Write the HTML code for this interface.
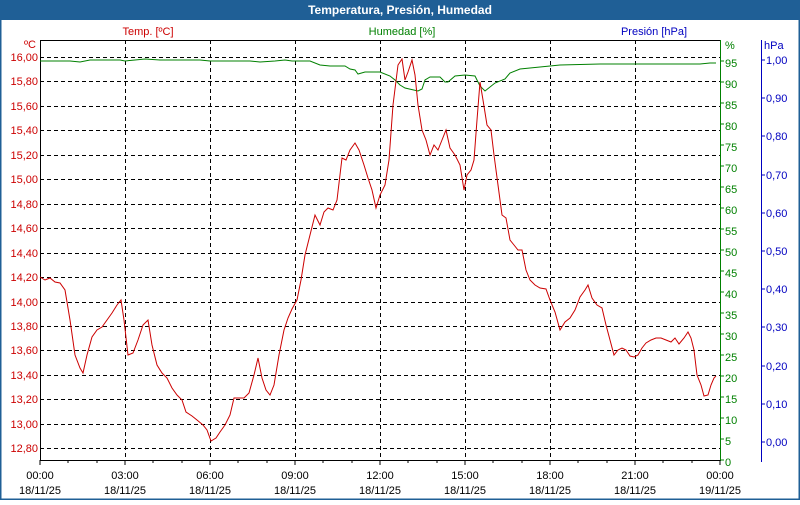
<!DOCTYPE html><html><head><style>body{margin:0;width:800px;height:500px;overflow:hidden;background:#fff;font-family:"Liberation Sans",sans-serif}</style></head><body>
<svg width="800" height="500" xmlns="http://www.w3.org/2000/svg" font-family="Liberation Sans, sans-serif" font-size="11">
<rect x="0" y="0" width="800" height="500" fill="#fff"/>
<rect x="0.5" y="0.5" width="799" height="499" fill="none" stroke="#1f5f96" stroke-width="2"/>
<rect x="0" y="0" width="800" height="20" fill="#1f5f96"/>
<text x="400" y="14" text-anchor="middle" fill="#fff" font-weight="bold" font-size="12">Temperatura, Presión, Humedad</text>
<text x="148" y="35" text-anchor="middle" fill="#cc0000">Temp. [ºC]</text>
<text x="402" y="35" text-anchor="middle" fill="#008000">Humedad [%]</text>
<text x="654" y="35" text-anchor="middle" fill="#0000c0">Presión [hPa]</text>
<g stroke="#000" stroke-dasharray="4,3" stroke-width="1">
<line x1="40" x2="720" y1="57.5" y2="57.5"/><line x1="40" x2="720" y1="81.5" y2="81.5"/><line x1="40" x2="720" y1="106.5" y2="106.5"/><line x1="40" x2="720" y1="130.5" y2="130.5"/><line x1="40" x2="720" y1="155.5" y2="155.5"/><line x1="40" x2="720" y1="179.5" y2="179.5"/><line x1="40" x2="720" y1="204.5" y2="204.5"/><line x1="40" x2="720" y1="228.5" y2="228.5"/><line x1="40" x2="720" y1="253.5" y2="253.5"/><line x1="40" x2="720" y1="277.5" y2="277.5"/><line x1="40" x2="720" y1="302.5" y2="302.5"/><line x1="40" x2="720" y1="326.5" y2="326.5"/><line x1="40" x2="720" y1="350.5" y2="350.5"/><line x1="40" x2="720" y1="375.5" y2="375.5"/><line x1="40" x2="720" y1="399.5" y2="399.5"/><line x1="40" x2="720" y1="424.5" y2="424.5"/><line x1="40" x2="720" y1="448.5" y2="448.5"/>
<line x1="125.5" x2="125.5" y1="40" y2="460"/><line x1="210.5" x2="210.5" y1="40" y2="460"/><line x1="295.5" x2="295.5" y1="40" y2="460"/><line x1="380.5" x2="380.5" y1="40" y2="460"/><line x1="465.5" x2="465.5" y1="40" y2="460"/><line x1="550.5" x2="550.5" y1="40" y2="460"/><line x1="635.5" x2="635.5" y1="40" y2="460"/>
</g>
<line x1="40" x2="720" y1="40.5" y2="40.5" stroke="#000"/>
<line x1="40.5" x2="40.5" y1="40" y2="460" stroke="#000"/>
<line x1="40" x2="720" y1="460.5" y2="460.5" stroke="#000"/>
<line x1="720.5" x2="720.5" y1="40" y2="461" stroke="#008000"/>
<line x1="761.5" x2="761.5" y1="40" y2="462" stroke="#0000c0"/>
<g fill="#cc0000" text-anchor="end">
<text x="36" y="48">ºC</text>
<text x="38" y="61">16,00</text><text x="38" y="85">15,80</text><text x="38" y="110">15,60</text><text x="38" y="134">15,40</text><text x="38" y="159">15,20</text><text x="38" y="183">15,00</text><text x="38" y="208">14,80</text><text x="38" y="232">14,60</text><text x="38" y="257">14,40</text><text x="38" y="281">14,20</text><text x="38" y="306">14,00</text><text x="38" y="330">13,80</text><text x="38" y="354">13,60</text><text x="38" y="379">13,40</text><text x="38" y="403">13,20</text><text x="38" y="428">13,00</text><text x="38" y="452">12,80</text>
</g>
<g fill="#008000" font-size="11">
<text x="725" y="49">%</text>
<text x="725" y="466">0</text><text x="725" y="445">5</text><text x="725" y="424">10</text><text x="725" y="403">15</text><text x="725" y="382">20</text><text x="725" y="361">25</text><text x="725" y="340">30</text><text x="725" y="319">35</text><text x="725" y="298">40</text><text x="725" y="277">45</text><text x="725" y="256">50</text><text x="725" y="235">55</text><text x="725" y="214">60</text><text x="725" y="193">65</text><text x="725" y="172">70</text><text x="725" y="151">75</text><text x="725" y="130">80</text><text x="725" y="109">85</text><text x="725" y="88">90</text><text x="725" y="67">95</text>
</g>
<g stroke="#008000"><path d="M720 460h4M720 439h4M720 418h4M720 397h4M720 376h4M720 355h4M720 334h4M720 313h4M720 292h4M720 271h4M720 250h4M720 229h4M720 208h4M720 187h4M720 166h4M720 145h4M720 124h4M720 103h4M720 82h4M720 61h4"/></g>
<g fill="#0000c0">
<text x="764" y="49">hPa</text>
<text x="766" y="446">0,00</text><text x="766" y="408">0,10</text><text x="766" y="370">0,20</text><text x="766" y="331">0,30</text><text x="766" y="293">0,40</text><text x="766" y="255">0,50</text><text x="766" y="217">0,60</text><text x="766" y="179">0,70</text><text x="766" y="140">0,80</text><text x="766" y="102">0,90</text><text x="766" y="64">1,00</text>
</g>
<g stroke="#0000c0"><path d="M761 442h4M761 404h4M761 366h4M761 327h4M761 289h4M761 251h4M761 213h4M761 175h4M761 136h4M761 98h4M761 60h4"/></g>
<g stroke="#000"><path d="M40 460v5M125 460v5M210 460v5M295 460v5M380 460v5M465 460v5M550 460v5M635 460v5M720 460v5M68 460v3M97 460v3M153 460v3M182 460v3M238 460v3M267 460v3M323 460v3M352 460v3M408 460v3M437 460v3M493 460v3M522 460v3M578 460v3M607 460v3M663 460v3M692 460v3"/></g>
<g fill="#000" text-anchor="middle">
<text x="40" y="479">00:00</text><text x="40" y="494">18/11/25</text>
<text x="125" y="479">03:00</text><text x="125" y="494">18/11/25</text>
<text x="210" y="479">06:00</text><text x="210" y="494">18/11/25</text>
<text x="295" y="479">09:00</text><text x="295" y="494">18/11/25</text>
<text x="380" y="479">12:00</text><text x="380" y="494">18/11/25</text>
<text x="465" y="479">15:00</text><text x="465" y="494">18/11/25</text>
<text x="550" y="479">18:00</text><text x="550" y="494">18/11/25</text>
<text x="635" y="479">21:00</text><text x="635" y="494">18/11/25</text>
<text x="720" y="479">00:00</text><text x="720" y="494">19/11/25</text>
</g>
<polyline fill="none" stroke="#008000" stroke-width="1" points="40,61 70,61 80,62 90,60 120,60 125,61 135,60 145,59 160,60 200,60 210,61 250,61 260,62 275,61 285,60 292,61 310,61 320,65 330,66 345,66 350,69 355,70 358,74 365,72 380,72 390,76 395,80 400,85 405,88 418,91 422,89 425,80 430,77 440,77 445,82 448,82 455,76 465,75 475,76 480,86 485,91 495,83 505,79 510,73 520,69 540,67 560,65 600,64 640,64 700,64 710,63 716,63"/>
<polyline fill="none" stroke="#cc0000" stroke-width="1" points="40,277 45,280 50,278 55,282 60,283 65,290 70,320 75,355 80,368 83,373 87,355 92,337 97,330 102,327 107,320 112,313 117,305 121,300 124,320 128,355 133,353 138,340 143,325 148,320 152,345 157,365 162,373 167,378 172,388 177,395 182,400 186,412 192,416 197,420 203,425 207,430 211,441 216,438 220,432 225,425 230,415 234,398 239,398 244,398 249,393 254,375 258,358 262,378 266,390 270,395 274,385 279,355 284,330 288,318 292,309 297,300 301,280 305,255 310,235 315,215 320,225 324,212 328,208 333,210 337,200 342,158 346,160 350,150 355,143 359,150 364,165 368,178 372,190 376,208 380,195 385,185 389,160 393,105 398,65 402,59 405,80 408,72 412,60 415,75 418,105 422,130 426,140 430,155 434,145 438,150 442,140 446,130 450,148 455,155 460,165 464,190 467,175 471,170 474,160 477,120 480,82 483,100 487,125 491,130 494,155 498,185 502,215 506,218 510,240 514,245 518,250 522,250 526,270 530,280 535,285 540,288 546,289 550,300 555,312 560,330 565,322 570,318 575,310 580,297 585,290 588,285 592,298 597,305 602,308 606,325 610,340 614,355 618,350 622,348 626,350 630,356 634,357 638,355 642,348 646,343 651,340 656,338 661,338 666,340 671,342 675,338 679,344 684,338 688,332 691,338 694,350 697,375 701,385 704,396 708,395 711,385 714,378 716,376"/>
</svg>
</body></html>
